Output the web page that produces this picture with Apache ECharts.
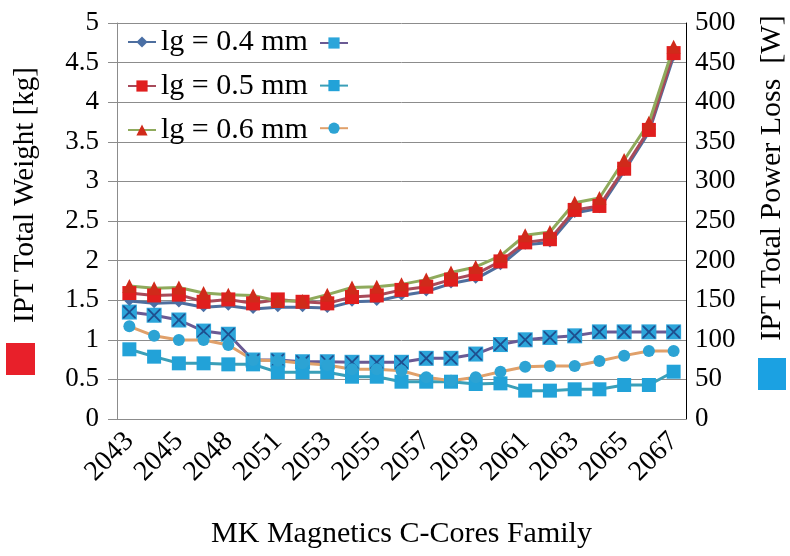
<!DOCTYPE html>
<html>
<head>
<meta charset="utf-8">
<script src="https://cdn.jsdelivr.net/npm/echarts@6/dist/echarts.min.js"></script>
<style>
  html, body { margin: 0; padding: 0; background: #fff; }
  #chart { width: 790px; height: 556px; }
</style>
</head>
<body>
<div id="chart"></div>
<script>
const categories = ['2043', '2044', '2045', '2047', '2048', '2050', '2051', '2052', '2053', '2054', '2055', '2056',
  '2057', '2058', '2059', '2060', '2061', '2062', '2063', '2064', '2065', '2066', '2067']

// IPT total weight [kg]
const weight04 = [1.49, 1.46, 1.47, 1.41, 1.43, 1.39, 1.41, 1.41, 1.40, 1.48, 1.49, 1.56,
  1.61, 1.71, 1.77, 1.94, 2.20, 2.23, 2.60, 2.66, 3.13, 3.62, 4.58]
const weight05 = [1.59, 1.56, 1.57, 1.48, 1.51, 1.46, 1.51, 1.48, 1.46, 1.54, 1.56, 1.63,
  1.67, 1.76, 1.83, 1.99, 2.23, 2.27, 2.64, 2.69, 3.16, 3.65, 4.62]
const weight06 = [1.68, 1.65, 1.66, 1.59, 1.57, 1.56, 1.49, 1.49, 1.57, 1.66, 1.67, 1.70,
  1.76, 1.85, 1.92, 2.06, 2.32, 2.36, 2.73, 2.79, 3.27, 3.74, 4.70]

// IPT total power loss [W]
const loss04 = [135, 131, 125, 111, 107, 74.5, 74.5, 72.3, 72.3, 71.6, 71.6, 71.6,
  76.6, 76.6, 82, 94, 100, 103, 105, 110, 110, 110, 110]
const loss05 = [88, 78.7, 70.3, 70.3, 69, 69, 59, 59, 59, 53.4, 53.4, 47.1,
  47.1, 47.1, 44.2, 45, 35.8, 35.8, 37.5, 37.5, 42.9, 42.9, 59.7]
const loss06 = [117, 105, 99.7, 99.7, 93.4, 74.5, 73.6, 70.3, 68.2, 62.8, 62.8, 61,
  52.6, 48.4, 52.6, 59.7, 66, 66.9, 66.9, 73.2, 80, 85.9, 85.9]

const weightTicks = { min: 0, max: 5, interval: 0.5 }
const lossTicks = { min: 0, max: 500, interval: 50 }

const FONT = '"Liberation Serif", "Times New Roman", serif'
const legendNames = ['lg = 0.4 mm', 'lg = 0.5 mm', 'lg = 0.6 mm']
const lossNames = ['lg = 0.4 mm ', 'lg = 0.5 mm ', 'lg = 0.6 mm ']

const chart = echarts.init(document.getElementById('chart'))

const lineSeries = (name, data, axis, lineColor, symbol, size, markColor) => ({
  name,
  type: 'line',
  yAxisIndex: axis,
  data,
  symbol,
  symbolSize: size,
  lineStyle: { color: lineColor, width: 3 },
  itemStyle: { color: markColor, borderWidth: 0 },
  emphasis: { disabled: true },
})

chart.setOption({
  animation: false,
  grid: { left: 117, right: 104, top: 23, bottom: 137, outerBoundsMode: 'none', containLabel: false },
  legend: [
    {
      data: legendNames,
      orient: 'vertical',
      left: 127,
      top: 27,
      padding: 0,
      itemWidth: 28,
      itemHeight: 14,
      itemGap: 14,
      textStyle: { fontFamily: FONT, fontSize: 30, color: '#000' },
    },
    {
      data: lossNames,
      orient: 'vertical',
      left: 319,
      top: 36,
      padding: 0,
      itemWidth: 28,
      itemHeight: 14,
      itemGap: 30,
      formatter: () => '',
      textStyle: { fontFamily: FONT, fontSize: 30, color: '#000' },
    },
  ],
  xAxis: {
    type: 'category',
    data: categories,
    boundaryGap: true,
    name: 'MK Magnetics C-Cores Family',
    nameLocation: 'middle',
    nameGap: 100,
    nameTextStyle: { fontFamily: FONT, fontSize: 30, color: '#000' },
    axisLine: { lineStyle: { color: '#8c8c8c', width: 1 } },
    axisTick: { interval: 0, length: 10, lineStyle: { color: '#8c8c8c' } },
    axisLabel: { interval: 1, rotate: 45, margin: 18, fontFamily: FONT, fontSize: 28, color: '#000' },
  },
  yAxis: [
    {
      type: 'value',
      ...weightTicks,
      axisLine: { show: true, lineStyle: { color: '#8c8c8c', width: 1 } },
      axisTick: { show: true, length: 9, lineStyle: { color: '#8c8c8c' } },
      axisLabel: { margin: 18, fontFamily: FONT, fontSize: 27, color: '#000' },
      splitLine: { lineStyle: { color: '#8c8c8c', width: 1 } },
    },
    {
      type: 'value',
      ...lossTicks,
      position: 'right',
      axisLine: { show: true, lineStyle: { color: '#000', width: 1 } },
      axisTick: { show: true, inside: true, length: 6, lineStyle: { color: '#8c8c8c' } },
      axisLabel: { margin: 9, fontFamily: FONT, fontSize: 27, color: '#000' },
      splitLine: { show: false },
    },
  ],
  graphic: [
    {
      type: 'text',
      x: 25,
      y: 195,
      rotation: Math.PI / 2,
      style: { text: 'IPT Total Weight [kg]', font: '29px ' + FONT, fill: '#000', align: 'center', verticalAlign: 'middle' },
    },
    { type: 'rect', shape: { x: 6, y: 343, width: 29, height: 32 }, style: { fill: '#e8202a' } },
    {
      type: 'text',
      x: 772,
      y: 178,
      rotation: Math.PI / 2,
      style: { text: 'IPT Total Power Loss  [W]', font: '30px ' + FONT, fill: '#000', align: 'center', verticalAlign: 'middle' },
    },
    { type: 'rect', shape: { x: 758, y: 358, width: 28, height: 32 }, style: { fill: '#1ba1e2' } },
  ],
  series: [
    lineSeries(lossNames[0], loss04, 1, '#6a5a94', 'rect', 15, '#2ca5da'),
    {
      name: 'x-mark',
      type: 'line',
      yAxisIndex: 1,
      data: loss04,
      symbol: 'path://M0,0L2,0L10,8L18,0L20,0L20,2L12,10L20,18L20,20L18,20L10,12L2,20L0,20L0,18L8,10L0,2Z',
      symbolSize: 13,
      lineStyle: { opacity: 0 },
      itemStyle: { color: '#1f4f8f' },
      silent: true,
    },
    lineSeries(lossNames[1], loss05, 1, '#3a9fb8', 'rect', 14, '#22a2d8'),
    lineSeries(lossNames[2], loss06, 1, '#e0a06a', 'circle', 12, '#2ca3d4'),
    lineSeries(legendNames[0], weight04, 0, '#4e6e9e', 'diamond', 10, '#4a6fa5'),
    lineSeries(legendNames[1], weight05, 0, '#a84a5a', 'rect', 14, '#e01e1e'),
    lineSeries(legendNames[2], weight06, 0, '#8faa5c', 'triangle', 14, '#d02a1a'),
  ],
})
</script>
</body>
</html>
